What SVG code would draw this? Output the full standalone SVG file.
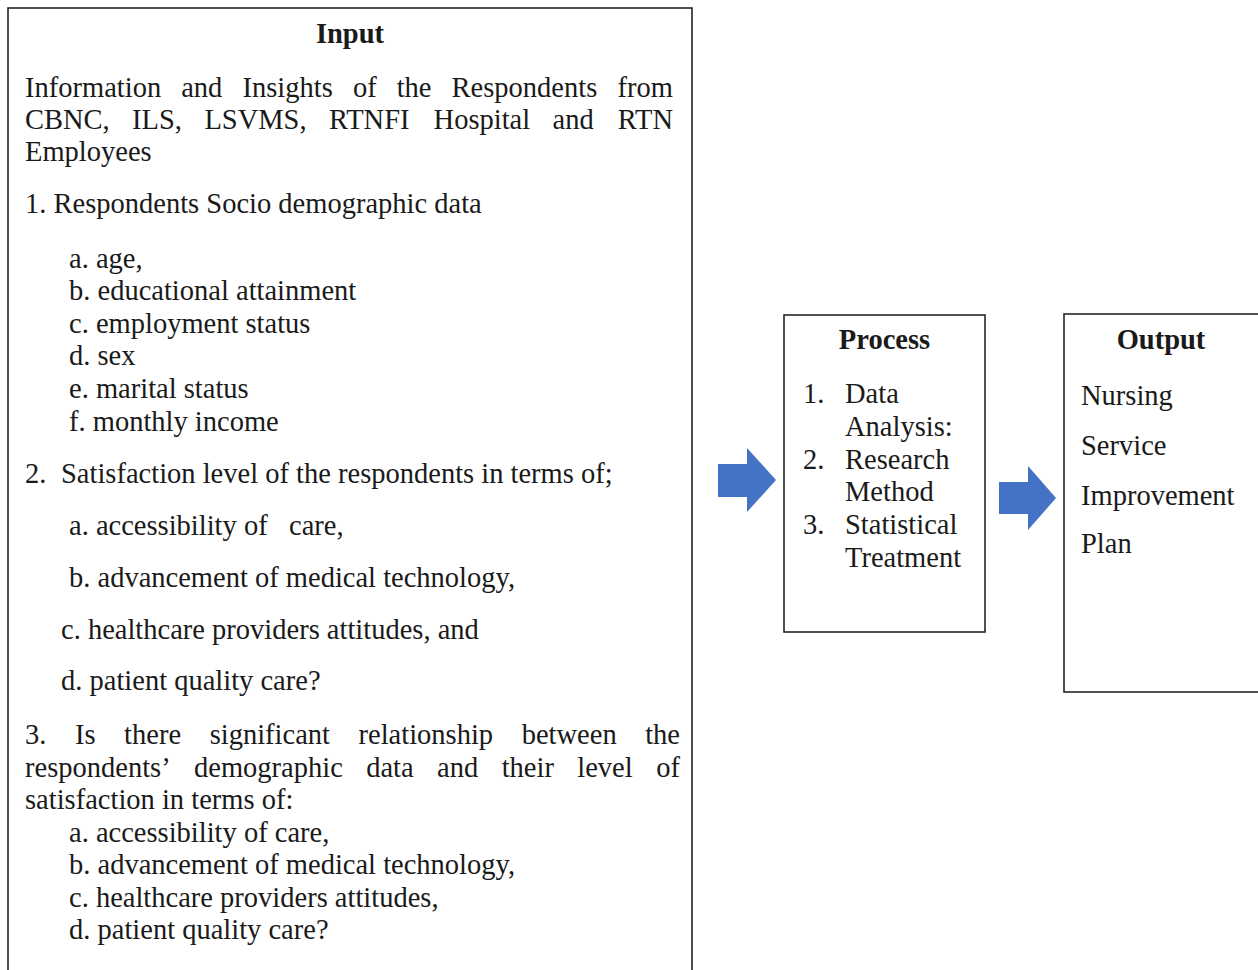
<svg xmlns="http://www.w3.org/2000/svg" width="1258" height="970" viewBox="0 0 1258 970">
<style>
.box{fill:#fff;stroke:#262626;stroke-width:1.6}
.t{font-family:"Liberation Serif","Times New Roman",serif;font-size:28.5px;fill:#1a1a1a}
.b{font-weight:bold;text-anchor:middle}
.pre{white-space:pre}
.arr{fill:#4472C4}
</style>
<rect width="1258" height="970" fill="#fff"/>
<g id="input">
<rect class="box" x="8" y="8" width="684" height="990"/>
<text class="t b" x="350" y="43">Input</text>
<text class="t" y="97"><tspan x="25">Information</tspan><tspan x="181.2">and</tspan><tspan x="242.5">Insights</tspan><tspan x="352.9">of</tspan><tspan x="396.7">the</tspan><tspan x="451.6">Respondents</tspan><tspan x="673" text-anchor="end">from</tspan></text>
<text class="t" y="129"><tspan x="25">CBNC,</tspan><tspan x="132.1">ILS,</tspan><tspan x="204.4">LSVMS,</tspan><tspan x="328.9">RTNFI</tspan><tspan x="433.6">Hospital</tspan><tspan x="552.6">and</tspan><tspan x="673" text-anchor="end">RTN</tspan></text>
<text class="t" x="25" y="161">Employees</text>
<text class="t" x="25" y="213">1. Respondents Socio demographic data</text>
<text class="t" x="69" y="268">a. age,</text>
<text class="t" x="69" y="300">b. educational attainment</text>
<text class="t" x="69" y="333">c. employment status</text>
<text class="t" x="69" y="365">d. sex</text>
<text class="t" x="69" y="398">e. marital status</text>
<text class="t" x="69" y="431">f. monthly income</text>
<text class="t" y="483"><tspan x="25">2.</tspan><tspan x="61">Satisfaction level of the respondents in terms of;</tspan></text>
<text class="t pre" x="69" y="535">a. accessibility of   care,</text>
<text class="t" x="69" y="587">b. advancement of medical technology,</text>
<text class="t" x="61" y="639">c. healthcare providers attitudes, and</text>
<text class="t" x="61" y="690">d. patient quality care?</text>
<text class="t" y="744"><tspan x="25">3.</tspan><tspan x="75">Is</tspan><tspan x="124.1">there</tspan><tspan x="209.7">significant</tspan><tspan x="358.5">relationship</tspan><tspan x="521.7">between</tspan><tspan x="680" text-anchor="end">the</tspan></text>
<text class="t" y="777"><tspan x="25">respondents’</tspan><tspan x="194">demographic</tspan><tspan x="366.2">data</tspan><tspan x="437.1">and</tspan><tspan x="501.7">their</tspan><tspan x="577.3">level</tspan><tspan x="680" text-anchor="end">of</tspan></text>
<text class="t" x="25" y="809">satisfaction in terms of:</text>
<text class="t" x="69" y="842">a. accessibility of care,</text>
<text class="t" x="69" y="874">b. advancement of medical technology,</text>
<text class="t" x="69" y="907">c. healthcare providers attitudes,</text>
<text class="t" x="69" y="939">d. patient quality care?</text>
</g>
<g id="process">
<rect class="box" x="784" y="315" width="201" height="317"/>
<text class="t b" x="884.5" y="349">Process</text>
<text class="t" x="803" y="403">1.</text>
<text class="t" x="845" y="403">Data</text>
<text class="t" x="845" y="436">Analysis:</text>
<text class="t" x="803" y="469">2.</text>
<text class="t" x="845" y="469">Research</text>
<text class="t" x="845" y="501">Method</text>
<text class="t" x="803" y="534">3.</text>
<text class="t" x="845" y="534">Statistical</text>
<text class="t" x="845" y="567">Treatment</text>
</g>
<g id="output">
<rect class="box" x="1064" y="314" width="210" height="378"/>
<text class="t b" x="1161" y="349">Output</text>
<text class="t" x="1081" y="405">Nursing</text>
<text class="t" x="1081" y="455">Service</text>
<text class="t" x="1081" y="505">Improvement</text>
<text class="t" x="1081" y="553">Plan</text>
</g>
<g id="connectors">
<polygon class="arr" points="718,464 747,464 747,448 776,480 747,512 747,497 718,497"/>
<polygon class="arr" points="999,482 1028,482 1028,466 1056,498 1028,530 1028,514 999,514"/>
</g>
</svg>
